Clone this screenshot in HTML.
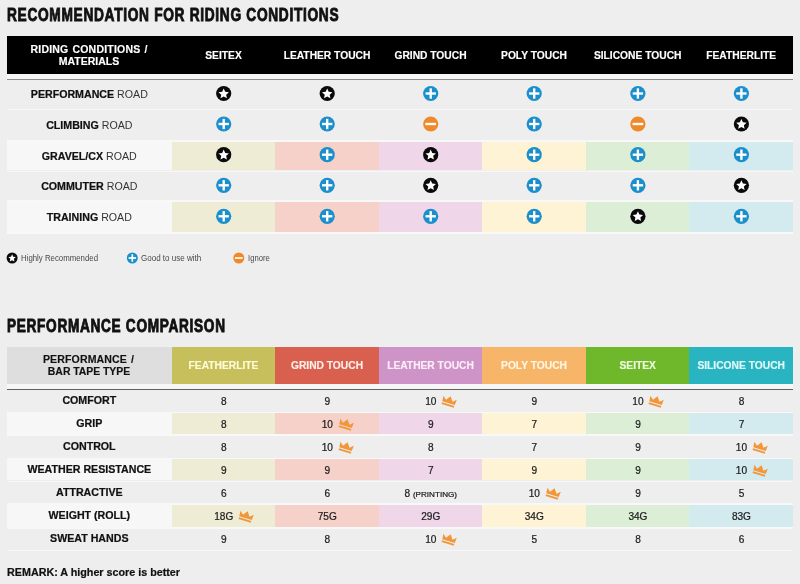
<!DOCTYPE html><html><head><meta charset="utf-8"><title>Bar tape</title><style>

html,body{margin:0;padding:0}
body{width:800px;height:584px;background:#eeeeee;position:relative;overflow:hidden;font-family:"Liberation Sans",sans-serif;color:#111}
.a{position:absolute}
.t{position:absolute;white-space:nowrap;line-height:1}
.c{position:absolute;white-space:nowrap;line-height:1;text-align:center}
.title{font-weight:bold;font-size:18px;transform-origin:0 0;color:#111;-webkit-text-stroke:0.9px #111;letter-spacing:0.9px}
.h{font-weight:bold;font-size:10.4px;color:#fff;-webkit-text-stroke:0.15px currentColor}
.lab{font-size:10.6px;color:#333}
.lab b{color:#111;-webkit-text-stroke:0.22px #111}
.num{font-size:10px;color:#1c1c1c;-webkit-text-stroke:0.22px #1c1c1c}
.leg{font-size:8.8px;color:#4a4a4a;transform:scaleX(0.885);transform-origin:0 0}
svg{position:absolute;overflow:visible}

</style></head><body><div id="wrap" style="position:absolute;left:0;top:0;width:800px;height:584px;will-change:transform">
<div class="t title" id="t1" style="left:6.6px;top:6.4px;transform:scaleX(0.762)">RECOMMENDATION FOR RIDING CONDITIONS</div>
<div class="a" style="left:7.0px;top:36px;width:786.0px;height:38px;background:#000"></div>
<div class="c h" id="h1a" style="left:-111.00px;width:400px;top:43.51px;font-size:10.5px;letter-spacing:0.2px;word-spacing:0.9px">RIDING CONDITIONS /</div>
<div class="c h" id="h1b" style="left:-111.00px;width:400px;top:55.81px;font-size:10.5px;">MATERIALS</div>
<div class="c h" id="h1_0" style="left:23.50px;width:400px;top:50.52px;font-size:10.25px;">SEITEX</div>
<div class="c h" id="h1_1" style="left:127.00px;width:400px;top:50.52px;font-size:10.25px;">LEATHER TOUCH</div>
<div class="c h" id="h1_2" style="left:230.50px;width:400px;top:50.52px;font-size:10.25px;">GRIND TOUCH</div>
<div class="c h" id="h1_3" style="left:334.00px;width:400px;top:50.52px;font-size:10.25px;">POLY TOUCH</div>
<div class="c h" id="h1_4" style="left:437.70px;width:400px;top:50.52px;font-size:10.25px;">SILICONE TOUCH</div>
<div class="c h" id="h1_5" style="left:541.20px;width:400px;top:50.52px;font-size:10.25px;">FEATHERLITE</div>
<div class="a" style="left:7.0px;top:74px;width:786.0px;height:4.6px;background:#f6f6f6"></div>
<div class="a" style="left:6.7px;top:78.5px;width:786.3px;height:1.2px;background:#8c8c8c"></div>
<div class="a" style="left:7.0px;top:108.60px;width:786.0px;height:1.8px;background:#f8f8f8"></div>
<div class="c lab" id="l1_0" style="left:-110.70px;width:400px;top:89.18px;font-size:10.65px;"><b>PERFORMANCE</b> ROAD</div>
<svg class="a" style="left:0;top:0" width="800" height="584"><circle cx="223.70" cy="93.50" r="7.60" fill="#0a0a0a"/><polygon points="223.70,88.41 225.21,91.80 228.90,92.19 226.15,94.67 226.92,98.31 223.70,96.45 220.48,98.31 221.25,94.67 218.50,92.19 222.19,91.80" fill="#fff"/></svg>
<svg class="a" style="left:0;top:0" width="800" height="584"><circle cx="327.20" cy="93.50" r="7.60" fill="#0a0a0a"/><polygon points="327.20,88.41 328.71,91.80 332.40,92.19 329.65,94.67 330.42,98.31 327.20,96.45 323.98,98.31 324.75,94.67 322.00,92.19 325.69,91.80" fill="#fff"/></svg>
<svg class="a" style="left:0;top:0" width="800" height="584"><circle cx="430.70" cy="93.50" r="7.60" fill="#1a8fcb"/><rect x="425.53" y="92.32" width="10.34" height="2.36" fill="#fff"/><rect x="429.52" y="88.33" width="2.36" height="10.34" fill="#fff"/></svg>
<svg class="a" style="left:0;top:0" width="800" height="584"><circle cx="534.20" cy="93.50" r="7.60" fill="#1a8fcb"/><rect x="529.03" y="92.32" width="10.34" height="2.36" fill="#fff"/><rect x="533.02" y="88.33" width="2.36" height="10.34" fill="#fff"/></svg>
<svg class="a" style="left:0;top:0" width="800" height="584"><circle cx="637.90" cy="93.50" r="7.60" fill="#1a8fcb"/><rect x="632.73" y="92.32" width="10.34" height="2.36" fill="#fff"/><rect x="636.72" y="88.33" width="2.36" height="10.34" fill="#fff"/></svg>
<svg class="a" style="left:0;top:0" width="800" height="584"><circle cx="741.40" cy="93.50" r="7.60" fill="#1a8fcb"/><rect x="736.23" y="92.32" width="10.34" height="2.36" fill="#fff"/><rect x="740.22" y="88.33" width="2.36" height="10.34" fill="#fff"/></svg>
<div class="a" style="left:7.0px;top:139.90px;width:786.0px;height:1.8px;background:#f8f8f8"></div>
<div class="c lab" id="l1_1" style="left:-110.70px;width:400px;top:119.88px;font-size:10.65px;"><b>CLIMBING</b> ROAD</div>
<svg class="a" style="left:0;top:0" width="800" height="584"><circle cx="223.70" cy="124.00" r="7.60" fill="#1a8fcb"/><rect x="218.53" y="122.82" width="10.34" height="2.36" fill="#fff"/><rect x="222.52" y="118.83" width="2.36" height="10.34" fill="#fff"/></svg>
<svg class="a" style="left:0;top:0" width="800" height="584"><circle cx="327.20" cy="124.00" r="7.60" fill="#1a8fcb"/><rect x="322.03" y="122.82" width="10.34" height="2.36" fill="#fff"/><rect x="326.02" y="118.83" width="2.36" height="10.34" fill="#fff"/></svg>
<svg class="a" style="left:0;top:0" width="800" height="584"><circle cx="430.70" cy="124.00" r="7.60" fill="#f0892a"/><rect x="425.38" y="122.82" width="10.64" height="2.36" fill="#fff"/></svg>
<svg class="a" style="left:0;top:0" width="800" height="584"><circle cx="534.20" cy="124.00" r="7.60" fill="#1a8fcb"/><rect x="529.03" y="122.82" width="10.34" height="2.36" fill="#fff"/><rect x="533.02" y="118.83" width="2.36" height="10.34" fill="#fff"/></svg>
<svg class="a" style="left:0;top:0" width="800" height="584"><circle cx="637.90" cy="124.00" r="7.60" fill="#f0892a"/><rect x="632.58" y="122.82" width="10.64" height="2.36" fill="#fff"/></svg>
<svg class="a" style="left:0;top:0" width="800" height="584"><circle cx="741.40" cy="124.00" r="7.60" fill="#0a0a0a"/><polygon points="741.40,118.91 742.91,122.30 746.60,122.69 743.85,125.17 744.62,128.81 741.40,126.95 738.18,128.81 738.95,125.17 736.20,122.69 739.89,122.30" fill="#fff"/></svg>
<div class="a" style="left:7.0px;top:170.60px;width:786.0px;height:1.8px;background:#f8f8f8"></div>
<div class="a" style="left:7.0px;top:142.00px;width:165.0px;height:28.30px;background:#f7f7f7"></div>
<div class="a" style="left:172.00px;top:142.00px;width:103.00px;height:28.30px;background:#eeecd5"></div>
<div class="a" style="left:275.00px;top:142.00px;width:104.00px;height:28.30px;background:#f5d1ca"></div>
<div class="a" style="left:379.00px;top:142.00px;width:103.00px;height:28.30px;background:#efd7e9"></div>
<div class="a" style="left:482.00px;top:142.00px;width:104.00px;height:28.30px;background:#fef3d4"></div>
<div class="a" style="left:586.00px;top:142.00px;width:103.40px;height:28.30px;background:#dcefd6"></div>
<div class="a" style="left:689.40px;top:142.00px;width:103.60px;height:28.30px;background:#d3ebef"></div>
<div class="c lab" id="l1_2" style="left:-110.70px;width:400px;top:150.58px;font-size:10.65px;"><b>GRAVEL/CX</b> ROAD</div>
<svg class="a" style="left:0;top:0" width="800" height="584"><circle cx="223.70" cy="154.70" r="7.60" fill="#0a0a0a"/><polygon points="223.70,149.61 225.21,153.00 228.90,153.39 226.15,155.87 226.92,159.51 223.70,157.65 220.48,159.51 221.25,155.87 218.50,153.39 222.19,153.00" fill="#fff"/></svg>
<svg class="a" style="left:0;top:0" width="800" height="584"><circle cx="327.20" cy="154.70" r="7.60" fill="#1a8fcb"/><rect x="322.03" y="153.52" width="10.34" height="2.36" fill="#fff"/><rect x="326.02" y="149.53" width="2.36" height="10.34" fill="#fff"/></svg>
<svg class="a" style="left:0;top:0" width="800" height="584"><circle cx="430.70" cy="154.70" r="7.60" fill="#0a0a0a"/><polygon points="430.70,149.61 432.21,153.00 435.90,153.39 433.15,155.87 433.92,159.51 430.70,157.65 427.48,159.51 428.25,155.87 425.50,153.39 429.19,153.00" fill="#fff"/></svg>
<svg class="a" style="left:0;top:0" width="800" height="584"><circle cx="534.20" cy="154.70" r="7.60" fill="#1a8fcb"/><rect x="529.03" y="153.52" width="10.34" height="2.36" fill="#fff"/><rect x="533.02" y="149.53" width="2.36" height="10.34" fill="#fff"/></svg>
<svg class="a" style="left:0;top:0" width="800" height="584"><circle cx="637.90" cy="154.70" r="7.60" fill="#1a8fcb"/><rect x="632.73" y="153.52" width="10.34" height="2.36" fill="#fff"/><rect x="636.72" y="149.53" width="2.36" height="10.34" fill="#fff"/></svg>
<svg class="a" style="left:0;top:0" width="800" height="584"><circle cx="741.40" cy="154.70" r="7.60" fill="#1a8fcb"/><rect x="736.23" y="153.52" width="10.34" height="2.36" fill="#fff"/><rect x="740.22" y="149.53" width="2.36" height="10.34" fill="#fff"/></svg>
<div class="a" style="left:7.0px;top:199.80px;width:786.0px;height:1.8px;background:#f8f8f8"></div>
<div class="c lab" id="l1_3" style="left:-110.70px;width:400px;top:181.28px;font-size:10.65px;"><b>COMMUTER</b> ROAD</div>
<svg class="a" style="left:0;top:0" width="800" height="584"><circle cx="223.70" cy="185.30" r="7.60" fill="#1a8fcb"/><rect x="218.53" y="184.12" width="10.34" height="2.36" fill="#fff"/><rect x="222.52" y="180.13" width="2.36" height="10.34" fill="#fff"/></svg>
<svg class="a" style="left:0;top:0" width="800" height="584"><circle cx="327.20" cy="185.30" r="7.60" fill="#1a8fcb"/><rect x="322.03" y="184.12" width="10.34" height="2.36" fill="#fff"/><rect x="326.02" y="180.13" width="2.36" height="10.34" fill="#fff"/></svg>
<svg class="a" style="left:0;top:0" width="800" height="584"><circle cx="430.70" cy="185.30" r="7.60" fill="#0a0a0a"/><polygon points="430.70,180.21 432.21,183.60 435.90,183.99 433.15,186.47 433.92,190.11 430.70,188.25 427.48,190.11 428.25,186.47 425.50,183.99 429.19,183.60" fill="#fff"/></svg>
<svg class="a" style="left:0;top:0" width="800" height="584"><circle cx="534.20" cy="185.30" r="7.60" fill="#1a8fcb"/><rect x="529.03" y="184.12" width="10.34" height="2.36" fill="#fff"/><rect x="533.02" y="180.13" width="2.36" height="10.34" fill="#fff"/></svg>
<svg class="a" style="left:0;top:0" width="800" height="584"><circle cx="637.90" cy="185.30" r="7.60" fill="#1a8fcb"/><rect x="632.73" y="184.12" width="10.34" height="2.36" fill="#fff"/><rect x="636.72" y="180.13" width="2.36" height="10.34" fill="#fff"/></svg>
<svg class="a" style="left:0;top:0" width="800" height="584"><circle cx="741.40" cy="185.30" r="7.60" fill="#0a0a0a"/><polygon points="741.40,180.21 742.91,183.60 746.60,183.99 743.85,186.47 744.62,190.11 741.40,188.25 738.18,190.11 738.95,186.47 736.20,183.99 739.89,183.60" fill="#fff"/></svg>
<div class="a" style="left:7.0px;top:232.10px;width:786.0px;height:1.8px;background:#f8f8f8"></div>
<div class="a" style="left:7.0px;top:202.00px;width:165.0px;height:30.30px;background:#f7f7f7"></div>
<div class="a" style="left:172.00px;top:202.00px;width:103.00px;height:30.30px;background:#eeecd5"></div>
<div class="a" style="left:275.00px;top:202.00px;width:104.00px;height:30.30px;background:#f5d1ca"></div>
<div class="a" style="left:379.00px;top:202.00px;width:103.00px;height:30.30px;background:#efd7e9"></div>
<div class="a" style="left:482.00px;top:202.00px;width:104.00px;height:30.30px;background:#fef3d4"></div>
<div class="a" style="left:586.00px;top:202.00px;width:103.40px;height:30.30px;background:#dcefd6"></div>
<div class="a" style="left:689.40px;top:202.00px;width:103.60px;height:30.30px;background:#d3ebef"></div>
<div class="c lab" id="l1_4" style="left:-110.70px;width:400px;top:211.98px;font-size:10.65px;"><b>TRAINING</b> ROAD</div>
<svg class="a" style="left:0;top:0" width="800" height="584"><circle cx="223.70" cy="216.30" r="7.60" fill="#1a8fcb"/><rect x="218.53" y="215.12" width="10.34" height="2.36" fill="#fff"/><rect x="222.52" y="211.13" width="2.36" height="10.34" fill="#fff"/></svg>
<svg class="a" style="left:0;top:0" width="800" height="584"><circle cx="327.20" cy="216.30" r="7.60" fill="#1a8fcb"/><rect x="322.03" y="215.12" width="10.34" height="2.36" fill="#fff"/><rect x="326.02" y="211.13" width="2.36" height="10.34" fill="#fff"/></svg>
<svg class="a" style="left:0;top:0" width="800" height="584"><circle cx="430.70" cy="216.30" r="7.60" fill="#1a8fcb"/><rect x="425.53" y="215.12" width="10.34" height="2.36" fill="#fff"/><rect x="429.52" y="211.13" width="2.36" height="10.34" fill="#fff"/></svg>
<svg class="a" style="left:0;top:0" width="800" height="584"><circle cx="534.20" cy="216.30" r="7.60" fill="#1a8fcb"/><rect x="529.03" y="215.12" width="10.34" height="2.36" fill="#fff"/><rect x="533.02" y="211.13" width="2.36" height="10.34" fill="#fff"/></svg>
<svg class="a" style="left:0;top:0" width="800" height="584"><circle cx="637.90" cy="216.30" r="7.60" fill="#0a0a0a"/><polygon points="637.90,211.21 639.41,214.60 643.10,214.99 640.35,217.47 641.12,221.11 637.90,219.25 634.68,221.11 635.45,217.47 632.70,214.99 636.39,214.60" fill="#fff"/></svg>
<svg class="a" style="left:0;top:0" width="800" height="584"><circle cx="741.40" cy="216.30" r="7.60" fill="#1a8fcb"/><rect x="736.23" y="215.12" width="10.34" height="2.36" fill="#fff"/><rect x="740.22" y="211.13" width="2.36" height="10.34" fill="#fff"/></svg>
<svg class="a" style="left:0;top:0" width="800" height="584"><circle cx="12.10" cy="258.00" r="5.50" fill="#0a0a0a"/><polygon points="12.10,254.31 13.19,256.77 15.87,257.05 13.87,258.85 14.43,261.48 12.10,260.14 9.77,261.48 10.33,258.85 8.33,257.05 11.01,256.77" fill="#fff"/></svg>
<div class="t leg" style="left:20.6px;top:253.55px;transform:scaleX(0.89)" id="lg0">Highly Recommended</div>
<svg class="a" style="left:0;top:0" width="800" height="584"><circle cx="132.30" cy="258.00" r="5.50" fill="#1a8fcb"/><rect x="128.56" y="257.15" width="7.48" height="1.71" fill="#fff"/><rect x="131.45" y="254.26" width="1.71" height="7.48" fill="#fff"/></svg>
<div class="t leg" style="left:141px;top:253.55px;transform:scaleX(0.912)" id="lg1">Good to use with</div>
<svg class="a" style="left:0;top:0" width="800" height="584"><circle cx="238.80" cy="258.00" r="5.50" fill="#f0892a"/><rect x="234.95" y="257.15" width="7.70" height="1.71" fill="#fff"/></svg>
<div class="t leg" style="left:247.7px;top:253.55px;transform:scaleX(0.872)" id="lg2">Ignore</div>
<div class="t title" id="t2" style="left:6.6px;top:316.5px;transform:scaleX(0.758)">PERFORMANCE COMPARISON</div>
<div class="a" style="left:7.0px;top:346.5px;width:165.0px;height:37.8px;background:#dedede"></div>
<div class="c h" id="h2a" style="left:-111.50px;width:400px;top:353.87px;font-size:10.55px;color:#111;letter-spacing:0.12px;word-spacing:1.0px">PERFORMANCE /</div>
<div class="c h" id="h2b" style="left:-111.00px;width:400px;top:367.25px;font-size:10.45px;color:#111;word-spacing:-0.2px">BAR TAPE TYPE</div>
<div class="a" style="left:172.00px;top:346.5px;width:103.00px;height:37.8px;background:#c7bf5c"></div>
<div class="c h" id="h2_0" style="left:23.50px;width:400px;top:360.82px;font-size:10.25px;color:#fffcd6">FEATHERLITE</div>
<div class="a" style="left:275.00px;top:346.5px;width:104.00px;height:37.8px;background:#d9604e"></div>
<div class="c h" id="h2_1" style="left:127.00px;width:400px;top:360.82px;font-size:10.25px;color:#ffeee9">GRIND TOUCH</div>
<div class="a" style="left:379.00px;top:346.5px;width:103.00px;height:37.8px;background:#cf94c7"></div>
<div class="c h" id="h2_2" style="left:230.50px;width:400px;top:360.82px;font-size:10.25px;color:#fdeefa">LEATHER TOUCH</div>
<div class="a" style="left:482.00px;top:346.5px;width:104.00px;height:37.8px;background:#f7b56a"></div>
<div class="c h" id="h2_3" style="left:334.00px;width:400px;top:360.82px;font-size:10.25px;color:#fff6e2">POLY TOUCH</div>
<div class="a" style="left:586.00px;top:346.5px;width:103.40px;height:37.8px;background:#6fb82b"></div>
<div class="c h" id="h2_4" style="left:437.70px;width:400px;top:360.82px;font-size:10.25px;color:#effcdf">SEITEX</div>
<div class="a" style="left:689.40px;top:346.5px;width:103.60px;height:37.8px;background:#28b5c1"></div>
<div class="c h" id="h2_5" style="left:541.20px;width:400px;top:360.82px;font-size:10.25px;color:#e2fbfc">SILICONE TOUCH</div>
<div class="a" style="left:7.0px;top:384.2px;width:786.0px;height:4.6px;background:#f6f6f6"></div>
<div class="a" style="left:6.7px;top:388.6px;width:786.3px;height:1.3px;background:#606060"></div>
<div class="a" style="left:7.0px;top:411.75px;width:786.0px;height:1.7px;background:#f8f8f8"></div>
<div class="c lab" id="l2_0" style="left:-110.70px;width:400px;top:395.38px;font-size:10.65px;"><b>COMFORT</b></div>
<div class="c num" id="n_0_0" style="left:23.75px;width:400px;top:397.45px;font-size:10.1px;">8</div>
<div class="c num" id="n_0_1" style="left:127.25px;width:400px;top:397.45px;font-size:10.1px;">9</div>
<div class="c num" id="n_0_2" style="left:230.75px;width:400px;top:397.45px;font-size:10.1px;">10</div>
<svg class="a" style="left:441.20px;top:395.20px" width="16" height="13" viewBox="0 0 16 13"><g transform="rotate(17 8 6.5)" fill="#f2963a"><path d="M1.5 8.2 L1 2.6 L4.6 5.6 L8 1 L11.4 5.6 L15 2.6 L14.5 8.2 Z"/><rect x="1.6" y="9.2" width="12.8" height="1.9"/></g></svg>
<div class="c num" id="n_0_3" style="left:334.25px;width:400px;top:397.45px;font-size:10.1px;">9</div>
<div class="c num" id="n_0_4" style="left:437.95px;width:400px;top:397.45px;font-size:10.1px;">10</div>
<svg class="a" style="left:648.40px;top:395.20px" width="16" height="13" viewBox="0 0 16 13"><g transform="rotate(17 8 6.5)" fill="#f2963a"><path d="M1.5 8.2 L1 2.6 L4.6 5.6 L8 1 L11.4 5.6 L15 2.6 L14.5 8.2 Z"/><rect x="1.6" y="9.2" width="12.8" height="1.9"/></g></svg>
<div class="c num" id="n_0_5" style="left:541.45px;width:400px;top:397.45px;font-size:10.1px;">8</div>
<div class="a" style="left:7.0px;top:434.05px;width:786.0px;height:1.7px;background:#f8f8f8"></div>
<div class="a" style="left:7.0px;top:413.40px;width:165.0px;height:20.40px;background:#f7f7f7"></div>
<div class="a" style="left:172.00px;top:413.40px;width:103.00px;height:20.40px;background:#eeecd5"></div>
<div class="a" style="left:275.00px;top:413.40px;width:104.00px;height:20.40px;background:#f5d1ca"></div>
<div class="a" style="left:379.00px;top:413.40px;width:103.00px;height:20.40px;background:#efd7e9"></div>
<div class="a" style="left:482.00px;top:413.40px;width:104.00px;height:20.40px;background:#fef3d4"></div>
<div class="a" style="left:586.00px;top:413.40px;width:103.40px;height:20.40px;background:#dcefd6"></div>
<div class="a" style="left:689.40px;top:413.40px;width:103.60px;height:20.40px;background:#d3ebef"></div>
<div class="c lab" id="l2_1" style="left:-110.70px;width:400px;top:418.33px;font-size:10.65px;"><b>GRIP</b></div>
<div class="c num" id="n_1_0" style="left:23.75px;width:400px;top:420.40px;font-size:10.1px;">8</div>
<div class="c num" id="n_1_1" style="left:127.25px;width:400px;top:420.40px;font-size:10.1px;">10</div>
<svg class="a" style="left:337.70px;top:418.15px" width="16" height="13" viewBox="0 0 16 13"><g transform="rotate(17 8 6.5)" fill="#f2963a"><path d="M1.5 8.2 L1 2.6 L4.6 5.6 L8 1 L11.4 5.6 L15 2.6 L14.5 8.2 Z"/><rect x="1.6" y="9.2" width="12.8" height="1.9"/></g></svg>
<div class="c num" id="n_1_2" style="left:230.75px;width:400px;top:420.40px;font-size:10.1px;">9</div>
<div class="c num" id="n_1_3" style="left:334.25px;width:400px;top:420.40px;font-size:10.1px;">7</div>
<div class="c num" id="n_1_4" style="left:437.95px;width:400px;top:420.40px;font-size:10.1px;">9</div>
<div class="c num" id="n_1_5" style="left:541.45px;width:400px;top:420.40px;font-size:10.1px;">7</div>
<div class="a" style="left:7.0px;top:457.65px;width:786.0px;height:1.7px;background:#f8f8f8"></div>
<div class="c lab" id="l2_2" style="left:-110.70px;width:400px;top:441.28px;font-size:10.65px;"><b>CONTROL</b></div>
<div class="c num" id="n_2_0" style="left:23.75px;width:400px;top:443.35px;font-size:10.1px;">8</div>
<div class="c num" id="n_2_1" style="left:127.25px;width:400px;top:443.35px;font-size:10.1px;">10</div>
<svg class="a" style="left:337.70px;top:441.10px" width="16" height="13" viewBox="0 0 16 13"><g transform="rotate(17 8 6.5)" fill="#f2963a"><path d="M1.5 8.2 L1 2.6 L4.6 5.6 L8 1 L11.4 5.6 L15 2.6 L14.5 8.2 Z"/><rect x="1.6" y="9.2" width="12.8" height="1.9"/></g></svg>
<div class="c num" id="n_2_2" style="left:230.75px;width:400px;top:443.35px;font-size:10.1px;">8</div>
<div class="c num" id="n_2_3" style="left:334.25px;width:400px;top:443.35px;font-size:10.1px;">7</div>
<div class="c num" id="n_2_4" style="left:437.95px;width:400px;top:443.35px;font-size:10.1px;">9</div>
<div class="c num" id="n_2_5" style="left:541.45px;width:400px;top:443.35px;font-size:10.1px;">10</div>
<svg class="a" style="left:751.90px;top:441.10px" width="16" height="13" viewBox="0 0 16 13"><g transform="rotate(17 8 6.5)" fill="#f2963a"><path d="M1.5 8.2 L1 2.6 L4.6 5.6 L8 1 L11.4 5.6 L15 2.6 L14.5 8.2 Z"/><rect x="1.6" y="9.2" width="12.8" height="1.9"/></g></svg>
<div class="a" style="left:7.0px;top:480.65px;width:786.0px;height:1.7px;background:#f8f8f8"></div>
<div class="a" style="left:7.0px;top:459.30px;width:165.0px;height:21.00px;background:#f7f7f7"></div>
<div class="a" style="left:172.00px;top:459.30px;width:103.00px;height:21.00px;background:#eeecd5"></div>
<div class="a" style="left:275.00px;top:459.30px;width:104.00px;height:21.00px;background:#f5d1ca"></div>
<div class="a" style="left:379.00px;top:459.30px;width:103.00px;height:21.00px;background:#efd7e9"></div>
<div class="a" style="left:482.00px;top:459.30px;width:104.00px;height:21.00px;background:#fef3d4"></div>
<div class="a" style="left:586.00px;top:459.30px;width:103.40px;height:21.00px;background:#dcefd6"></div>
<div class="a" style="left:689.40px;top:459.30px;width:103.60px;height:21.00px;background:#d3ebef"></div>
<div class="c lab" id="l2_3" style="left:-110.70px;width:400px;top:464.23px;font-size:10.65px;"><b>WEATHER RESISTANCE</b></div>
<div class="c num" id="n_3_0" style="left:23.75px;width:400px;top:466.30px;font-size:10.1px;">9</div>
<div class="c num" id="n_3_1" style="left:127.25px;width:400px;top:466.30px;font-size:10.1px;">9</div>
<div class="c num" id="n_3_2" style="left:230.75px;width:400px;top:466.30px;font-size:10.1px;">7</div>
<div class="c num" id="n_3_3" style="left:334.25px;width:400px;top:466.30px;font-size:10.1px;">9</div>
<div class="c num" id="n_3_4" style="left:437.95px;width:400px;top:466.30px;font-size:10.1px;">9</div>
<div class="c num" id="n_3_5" style="left:541.45px;width:400px;top:466.30px;font-size:10.1px;">10</div>
<svg class="a" style="left:751.90px;top:464.05px" width="16" height="13" viewBox="0 0 16 13"><g transform="rotate(17 8 6.5)" fill="#f2963a"><path d="M1.5 8.2 L1 2.6 L4.6 5.6 L8 1 L11.4 5.6 L15 2.6 L14.5 8.2 Z"/><rect x="1.6" y="9.2" width="12.8" height="1.9"/></g></svg>
<div class="a" style="left:7.0px;top:503.15px;width:786.0px;height:1.7px;background:#f8f8f8"></div>
<div class="c lab" id="l2_4" style="left:-110.70px;width:400px;top:487.18px;font-size:10.65px;"><b>ATTRACTIVE</b></div>
<div class="c num" id="n_4_0" style="left:23.75px;width:400px;top:489.25px;font-size:10.1px;">6</div>
<div class="c num" id="n_4_1" style="left:127.25px;width:400px;top:489.25px;font-size:10.1px;">6</div>
<div class="c num" id="n_4_2" style="left:230.75px;width:400px;top:489.25px;font-size:10.1px;">8 <span style="font-size:8.1px">(PRINTING)</span></div>
<div class="c num" id="n_4_3" style="left:334.25px;width:400px;top:489.25px;font-size:10.1px;">10</div>
<svg class="a" style="left:544.70px;top:487.00px" width="16" height="13" viewBox="0 0 16 13"><g transform="rotate(17 8 6.5)" fill="#f2963a"><path d="M1.5 8.2 L1 2.6 L4.6 5.6 L8 1 L11.4 5.6 L15 2.6 L14.5 8.2 Z"/><rect x="1.6" y="9.2" width="12.8" height="1.9"/></g></svg>
<div class="c num" id="n_4_4" style="left:437.95px;width:400px;top:489.25px;font-size:10.1px;">9</div>
<div class="c num" id="n_4_5" style="left:541.45px;width:400px;top:489.25px;font-size:10.1px;">5</div>
<div class="a" style="left:7.0px;top:527.35px;width:786.0px;height:1.7px;background:#f8f8f8"></div>
<div class="a" style="left:7.0px;top:504.80px;width:165.0px;height:22.20px;background:#f7f7f7"></div>
<div class="a" style="left:172.00px;top:504.80px;width:103.00px;height:22.20px;background:#eeecd5"></div>
<div class="a" style="left:275.00px;top:504.80px;width:104.00px;height:22.20px;background:#f5d1ca"></div>
<div class="a" style="left:379.00px;top:504.80px;width:103.00px;height:22.20px;background:#efd7e9"></div>
<div class="a" style="left:482.00px;top:504.80px;width:104.00px;height:22.20px;background:#fef3d4"></div>
<div class="a" style="left:586.00px;top:504.80px;width:103.40px;height:22.20px;background:#dcefd6"></div>
<div class="a" style="left:689.40px;top:504.80px;width:103.60px;height:22.20px;background:#d3ebef"></div>
<div class="c lab" id="l2_5" style="left:-110.70px;width:400px;top:510.13px;font-size:10.65px;"><b>WEIGHT (ROLL)</b></div>
<div class="c num" id="n_5_0" style="left:23.75px;width:400px;top:512.20px;font-size:10.1px;">18G</div>
<svg class="a" style="left:238.15px;top:509.95px" width="16" height="13" viewBox="0 0 16 13"><g transform="rotate(17 8 6.5)" fill="#f2963a"><path d="M1.5 8.2 L1 2.6 L4.6 5.6 L8 1 L11.4 5.6 L15 2.6 L14.5 8.2 Z"/><rect x="1.6" y="9.2" width="12.8" height="1.9"/></g></svg>
<div class="c num" id="n_5_1" style="left:127.25px;width:400px;top:512.20px;font-size:10.1px;">75G</div>
<div class="c num" id="n_5_2" style="left:230.75px;width:400px;top:512.20px;font-size:10.1px;">29G</div>
<div class="c num" id="n_5_3" style="left:334.25px;width:400px;top:512.20px;font-size:10.1px;">34G</div>
<div class="c num" id="n_5_4" style="left:437.95px;width:400px;top:512.20px;font-size:10.1px;">34G</div>
<div class="c num" id="n_5_5" style="left:541.45px;width:400px;top:512.20px;font-size:10.1px;">83G</div>
<div class="a" style="left:7.0px;top:549.75px;width:786.0px;height:1.7px;background:#f8f8f8"></div>
<div class="c lab" id="l2_6" style="left:-110.70px;width:400px;top:533.08px;font-size:10.65px;"><b>SWEAT HANDS</b></div>
<div class="c num" id="n_6_0" style="left:23.75px;width:400px;top:535.15px;font-size:10.1px;">9</div>
<div class="c num" id="n_6_1" style="left:127.25px;width:400px;top:535.15px;font-size:10.1px;">8</div>
<div class="c num" id="n_6_2" style="left:230.75px;width:400px;top:535.15px;font-size:10.1px;">10</div>
<svg class="a" style="left:441.20px;top:532.90px" width="16" height="13" viewBox="0 0 16 13"><g transform="rotate(17 8 6.5)" fill="#f2963a"><path d="M1.5 8.2 L1 2.6 L4.6 5.6 L8 1 L11.4 5.6 L15 2.6 L14.5 8.2 Z"/><rect x="1.6" y="9.2" width="12.8" height="1.9"/></g></svg>
<div class="c num" id="n_6_3" style="left:334.25px;width:400px;top:535.15px;font-size:10.1px;">5</div>
<div class="c num" id="n_6_4" style="left:437.95px;width:400px;top:535.15px;font-size:10.1px;">8</div>
<div class="c num" id="n_6_5" style="left:541.45px;width:400px;top:535.15px;font-size:10.1px;">6</div>
<div class="t lab" style="left:7px;top:567.20px;font-size:10.75px" id="rem"><b>REMARK: A higher score is better</b></div>
</div></body></html>
